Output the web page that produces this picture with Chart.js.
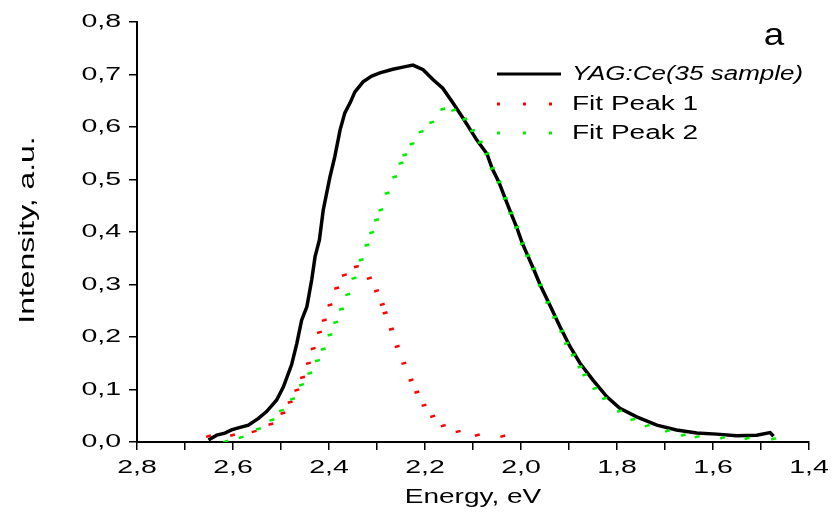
<!DOCTYPE html>
<html>
<head>
<meta charset="utf-8">
<script src="https://cdn.jsdelivr.net/npm/chart.js@4"></script>
<style>
  body { margin: 0; background: #fff; }
  #wrap { width: 833px; height: 518px; }
</style>
</head>
<body>
<div id="wrap"><canvas id="chart" width="833" height="518"></canvas></div>
<script>
// Measured spectrum, YAG:Ce (35 sample)
const blackE = [2.651,2.634,2.617,2.603,2.589,2.568,2.547,2.530,2.509,2.495,2.478,2.467,2.457,2.446,2.436,2.429,2.420,2.412,2.398,2.388,2.377,2.367,2.356,2.346,2.329,2.311,2.294,2.267,2.246,2.225,2.204,2.183,2.163,2.142,2.121,2.092,2.071,2.060,2.046,2.033,2.021,2.009,1.997,1.986,1.974,1.960,1.940,1.919,1.898,1.877,1.850,1.821,1.794,1.759,1.717,1.676,1.634,1.592,1.551,1.509,1.481,1.474];
const blackI = [0.004,0.013,0.017,0.023,0.027,0.032,0.045,0.058,0.080,0.105,0.147,0.188,0.232,0.258,0.309,0.353,0.385,0.442,0.505,0.543,0.594,0.627,0.646,0.667,0.686,0.697,0.703,0.710,0.714,0.718,0.709,0.690,0.674,0.646,0.617,0.575,0.549,0.521,0.495,0.464,0.436,0.409,0.378,0.355,0.330,0.299,0.261,0.220,0.182,0.150,0.118,0.086,0.064,0.048,0.032,0.023,0.017,0.015,0.012,0.013,0.018,0.011];

// Fit Peak 1 (red dots)
const fit1E = [2.651,2.601,2.556,2.521,2.496,2.481,2.467,2.455,2.443,2.433,2.420,2.410,2.398,2.384,2.368,2.343,2.316,2.301,2.289,2.283,2.270,2.258,2.244,2.229,2.217,2.202,2.184,2.162,2.131,2.091,2.038];
const fit1I = [0.011,0.013,0.020,0.034,0.055,0.076,0.099,0.123,0.150,0.178,0.209,0.232,0.261,0.293,0.318,0.334,0.312,0.288,0.262,0.246,0.215,0.182,0.150,0.118,0.095,0.070,0.049,0.031,0.020,0.013,0.011];

// Fit Peak 2 (green dots)
const fit2E = [2.615,2.583,2.547,2.519,2.499,2.476,2.457,2.440,2.424,2.412,2.398,2.386,2.374,2.361,2.348,2.333,2.321,2.311,2.301,2.292,2.279,2.263,2.250,2.242,2.227,2.208,2.186,2.163,2.140,2.117,2.101,2.085,2.071,2.060,2.046,2.033,2.021,2.009,1.997,1.986,1.974,1.960,1.944,1.930,1.915,1.905,1.891,1.877,1.867,1.846,1.826,1.795,1.767,1.737,1.695,1.662,1.633,1.580,1.529,1.474];
const fit2I = [0.001,0.009,0.025,0.042,0.060,0.082,0.109,0.131,0.155,0.177,0.204,0.228,0.253,0.281,0.312,0.347,0.375,0.399,0.423,0.442,0.474,0.505,0.531,0.547,0.568,0.591,0.609,0.634,0.632,0.615,0.593,0.571,0.549,0.521,0.495,0.464,0.436,0.409,0.378,0.355,0.330,0.299,0.266,0.238,0.211,0.188,0.166,0.143,0.128,0.102,0.083,0.059,0.043,0.031,0.021,0.013,0.010,0.008,0.007,0.006];

const seriesNames = ['YAG:Ce(35 sample)', 'Fit Peak 1', 'Fit Peak 2'];
const xTickValues = [2.8, 2.6, 2.4, 2.2, 2.0, 1.8, 1.6, 1.4];
const xTickLabels = ['2,8', '2,6', '2,4', '2,2', '2,0', '1,8', '1,6', '1,4'];
const yTickValues = [0, 0.1, 0.2, 0.3, 0.4, 0.5, 0.6, 0.7, 0.8];
const yTickLabels = ['0,0', '0,1', '0,2', '0,3', '0,4', '0,5', '0,6', '0,7', '0,8'];

const FONT = '"Liberation Sans", Arial, sans-serif';

function toPoints(xs, ys) {
    return xs.map((x, i) => ({ x: x, y: ys[i] }));
}

// text in the original is drawn horizontally wide, so stretch it
function wideText(ctx, text, x, y, o) {
    ctx.save();
    ctx.translate(x, y);
    if (o.rot) ctx.rotate(o.rot);
    ctx.scale(o.sx || 1, 1);
    ctx.font = o.font;
    ctx.fillStyle = '#000';
    ctx.textAlign = o.align || 'center';
    ctx.textBaseline = o.base || 'middle';
    ctx.fillText(text, 0, 0);
    ctx.restore();
}

const textPlugin = {
    id: 'texts',
    afterDraw(chart) {
        const ctx = chart.ctx;
        const xs = chart.scales.x, ys = chart.scales.y;
        const area = chart.chartArea;

        yTickValues.forEach((v, i) => {
            wideText(ctx, yTickLabels[i], area.left - 16, ys.getPixelForValue(v),
                { font: '19px ' + FONT, sx: 1.5, align: 'right' });
        });
        xTickValues.forEach((v, i) => {
            wideText(ctx, xTickLabels[i], xs.getPixelForValue(v), area.bottom + 26,
                { font: '19px ' + FONT, sx: 1.5 });
        });
        wideText(ctx, 'Energy, eV', (area.left + area.right) / 2, area.bottom + 55,
            { font: '20px ' + FONT, sx: 1.4 });
        wideText(ctx, 'Intensity, a.u.', 28, 230,
            { font: '22px ' + FONT, sx: 1.45, rot: -Math.PI / 2 });
        wideText(ctx, 'a', 774, 36, { font: '32px ' + FONT, sx: 1.15 });

        // legend inside the plot, top right
        const ds = chart.data.datasets;
        const lx = 497, rows = [74, 104, 133];
        ctx.save();
        ctx.strokeStyle = ds[0].borderColor;
        ctx.lineWidth = 3;
        ctx.beginPath();
        ctx.moveTo(lx, rows[0]);
        ctx.lineTo(lx + 64, rows[0]);
        ctx.stroke();
        [1, 2].forEach(k => {
            ctx.fillStyle = ds[k].pointBorderColor;
            [0, 26, 52].forEach(dx => ctx.fillRect(lx + dx, rows[k] - 1.5, 3, 3));
        });
        ctx.restore();
        wideText(ctx, ds[0].label, 572, rows[0], { font: 'italic 20px ' + FONT, sx: 1.3, align: 'left' });
        wideText(ctx, ds[1].label, 572, rows[1], { font: '20px ' + FONT, sx: 1.4, align: 'left' });
        wideText(ctx, ds[2].label, 572, rows[2], { font: '20px ' + FONT, sx: 1.4, align: 'left' });
    }
};

const dotStyle = {
    showLine: false,
    pointStyle: 'line',
    pointRadius: 2.5,
    pointBorderWidth: 2.5,
    pointRotation: -15,
    pointHoverRadius: 0
};

new Chart(document.getElementById('chart'), {
    type: 'scatter',
    data: {
        datasets: [
            {
                label: seriesNames[0],
                data: toPoints(blackE, blackI),
                showLine: true,
                borderColor: '#000',
                borderWidth: 3.5,
                pointRadius: 0,
                tension: 0,
                order: 3
            },
            Object.assign({
                label: seriesNames[1],
                data: toPoints(fit1E, fit1I),
                borderColor: '#ff0000',
                pointBorderColor: '#ff0000',
                order: 2
            }, dotStyle),
            Object.assign({
                label: seriesNames[2],
                data: toPoints(fit2E, fit2I),
                borderColor: '#00ee00',
                pointBorderColor: '#00ee00',
                order: 1
            }, dotStyle)
        ]
    },
    options: {
        responsive: false,
        animation: false,
        layout: { padding: { left: 129, right: 24, top: 22, bottom: 68 } },
        plugins: { legend: { display: false }, tooltip: { enabled: false } },
        scales: {
            x: {
                type: 'linear',
                reverse: true,
                min: 1.4,
                max: 2.8,
                afterFit: s => { s.height = 8; },
                ticks: { display: false, stepSize: 0.1 },
                grid: { drawOnChartArea: false, drawTicks: true, tickLength: 8, color: '#000', lineWidth: 1.5 },
                border: { display: true, color: '#000', width: 2 }
            },
            y: {
                type: 'linear',
                min: 0,
                max: 0.8,
                afterFit: s => { s.width = 8; },
                ticks: { display: false, stepSize: 0.1 },
                grid: { drawOnChartArea: false, drawTicks: true, tickLength: 8, color: '#000', lineWidth: 1.5 },
                border: { display: true, color: '#000', width: 2 }
            }
        }
    },
    plugins: [textPlugin]
});
</script>
</body>
</html>
